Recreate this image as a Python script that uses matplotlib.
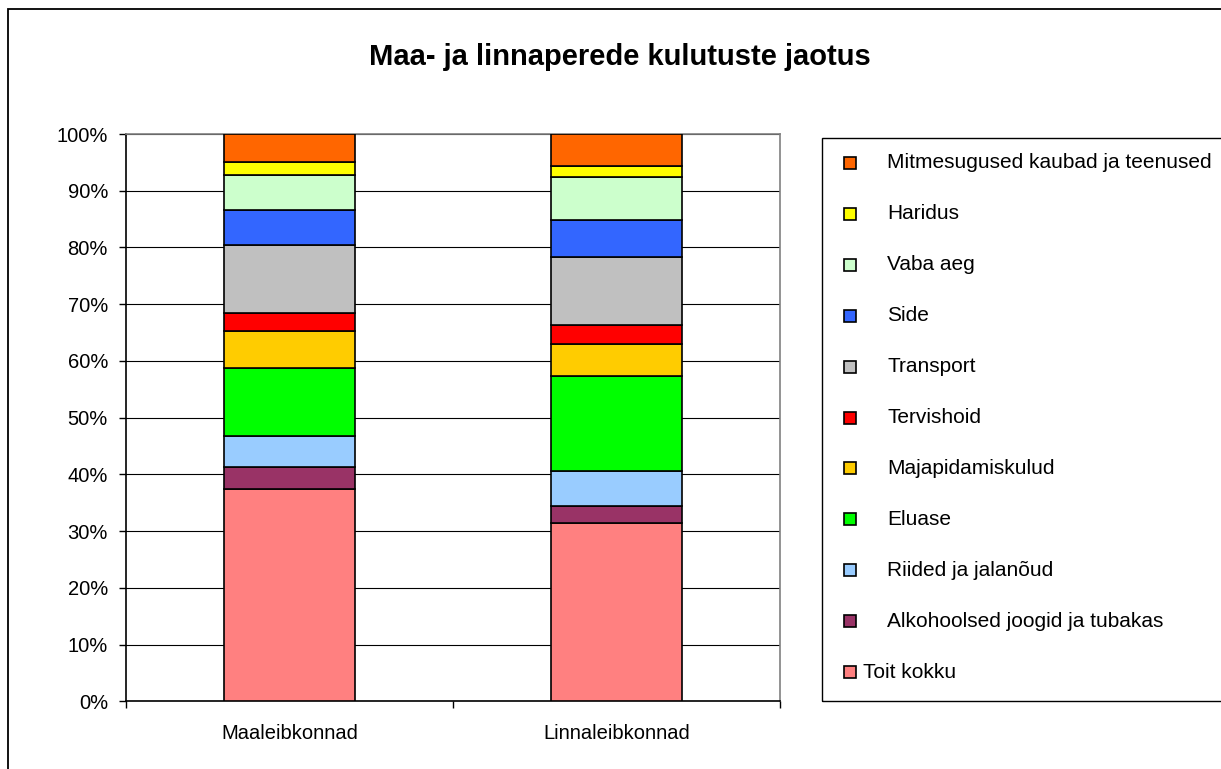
import numpy as np
import matplotlib
matplotlib.use('Agg')
import matplotlib.pyplot as plt
from matplotlib.patches import Rectangle

plt.rcParams['font.family'] = ['Liberation Sans', 'DejaVu Sans']

# andmed (alt ülespoole)
kategooriad = ['Maaleibkonnad', 'Linnaleibkonnad']
kulud = ['Toit kokku', 'Alkohoolsed joogid ja tubakas', 'Riided ja jalanõud', 'Eluase',
         'Majapidamiskulud', 'Tervishoid', 'Transport', 'Side', 'Vaba aeg', 'Haridus',
         'Mitmesugused kaubad ja teenused']
maa = [37.5, 3.8, 5.5, 12.0, 6.5, 3.1, 12.0, 6.2, 6.1, 2.4, 4.9]
linn = [31.4, 3.1, 6.1, 16.8, 5.5, 3.5, 12.0, 6.5, 7.5, 2.0, 5.6]
varvid = ['#FF8080', '#993366', '#99CCFF', '#00FF00', '#FFCC00', '#FF0000',
          '#C0C0C0', '#3366FF', '#CCFFCC', '#FFFF00', '#FF6600']

W, H = 1221, 769
fig = plt.figure(figsize=(W / 100, H / 100), dpi=100)
ax = fig.add_axes([126 / W, 1 - 701.3 / H, (780 - 126) / W, (701.3 - 134) / H])

andmed = np.array([maa, linn], dtype=float)
andmed = andmed / andmed.sum(axis=1, keepdims=True) * 100
x = np.arange(len(kategooriad))
pohi = np.zeros(len(kategooriad))
for i in range(len(kulud)):
    ax.bar(x, andmed[:, i], 0.4, bottom=pohi, color=varvid[i],
           edgecolor='black', linewidth=1.2, zorder=3)
    pohi += andmed[:, i]

ax.set_xlim(-0.5, 1.5)
ax.set_ylim(0, 100)
ax.set_yticks(np.arange(0, 101, 10))
ax.set_yticklabels([f'{v}%' for v in range(0, 101, 10)])
ax.yaxis.grid(True, color='black', linewidth=0.8, zorder=0)
ax.tick_params(axis='y', length=5, width=1, pad=8, labelsize=14.5)

ax.set_xticks([-0.5, 0.5, 1.5])
ax.set_xticklabels([])
ax.set_xticks(x, minor=True)
ax.set_xticklabels(kategooriad, minor=True)
ax.tick_params(axis='x', which='major', length=5, width=1)
ax.tick_params(axis='x', which='minor', length=0, pad=16, labelsize=14.5)

ax.spines['left'].set_color('black')
ax.spines['bottom'].set_color('black')
ax.spines['top'].set_color('#808080')
ax.spines['right'].set_color('#808080')
for s in ax.spines.values():
    s.set_linewidth(1.2)

fig.text(620 / W, 1 - 57 / H, 'Maa- ja linnaperede kulutuste jaotus',
         ha='center', va='center', fontsize=21, fontweight='bold')

# välimine raam
fig.add_artist(Rectangle((8 / W, -0.2), 2, 1.2 - 9 / H, transform=fig.transFigure,
                         fill=False, edgecolor='black', linewidth=1.3, clip_on=False))

# legend
fig.add_artist(Rectangle((822 / W, 1 - 701 / H), 2, (701 - 138) / H, transform=fig.transFigure,
                         fill=False, edgecolor='black', linewidth=1, clip_on=False))
for k, i in enumerate(range(len(kulud) - 1, -1, -1)):
    yc = 163 + k * 50.9
    fig.add_artist(Rectangle(((849.5 - 6) / W, 1 - (yc + 6) / H), 12 / W, 12 / H,
                             transform=fig.transFigure, facecolor=varvid[i],
                             edgecolor='black', linewidth=1.2))
    tx = 863 if i == 0 else 887
    fig.text(tx / W, 1 - yc / H, kulud[i], ha='left', va='center', fontsize=15)

fig.savefig('out.png', dpi=100)
